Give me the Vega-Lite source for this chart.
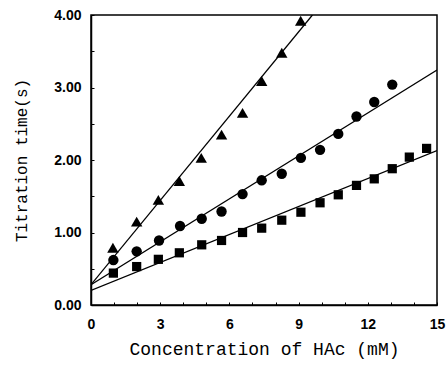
{
  "$schema": "https://vega.github.io/schema/vega-lite/v6.json",
  "width": 346,
  "height": 290,
  "autosize": {"type": "none"},
  "padding": {"left": 91, "top": 15, "right": 11, "bottom": 63},
  "background": "white",
  "config": {
    "view": {"stroke": "black", "strokeWidth": 1.5},
    "axis": {
      "domainColor": "black", "domainWidth": 1.5, "tickColor": "black", "tickWidth": 1,
      "grid": false, "labelColor": "black", "titleColor": "black",
      "labelFont": "Liberation Sans", "labelFontSize": 14, "labelFontWeight": "bold",
      "titleFont": "Liberation Mono", "titleFontWeight": "normal"
    }
  },
  "datasets": {
    "pts": [
      {"c": 0.95, "t": 0.79, "s": "A"}, {"c": 1.98, "t": 1.15, "s": "A"}, {"c": 2.92, "t": 1.45, "s": "A"},
      {"c": 3.83, "t": 1.71, "s": "A"}, {"c": 4.78, "t": 2.03, "s": "A"}, {"c": 5.66, "t": 2.35, "s": "A"},
      {"c": 6.57, "t": 2.65, "s": "A"}, {"c": 7.4, "t": 3.09, "s": "A"}, {"c": 8.27, "t": 3.48, "s": "A"},
      {"c": 9.09, "t": 3.92, "s": "A"},
      {"c": 0.97, "t": 0.62, "s": "B"}, {"c": 1.98, "t": 0.74, "s": "B"}, {"c": 2.95, "t": 0.89, "s": "B"},
      {"c": 3.86, "t": 1.09, "s": "B"}, {"c": 4.8, "t": 1.19, "s": "B"}, {"c": 5.66, "t": 1.29, "s": "B"},
      {"c": 6.57, "t": 1.53, "s": "B"}, {"c": 7.4, "t": 1.72, "s": "B"}, {"c": 8.27, "t": 1.81, "s": "B"},
      {"c": 9.1, "t": 2.03, "s": "B"}, {"c": 9.93, "t": 2.14, "s": "B"}, {"c": 10.72, "t": 2.36, "s": "B"},
      {"c": 11.51, "t": 2.6, "s": "B"}, {"c": 12.28, "t": 2.8, "s": "B"}, {"c": 13.06, "t": 3.04, "s": "B"},
      {"c": 0.97, "t": 0.44, "s": "C"}, {"c": 1.98, "t": 0.53, "s": "C"}, {"c": 2.92, "t": 0.63, "s": "C"},
      {"c": 3.83, "t": 0.72, "s": "C"}, {"c": 4.8, "t": 0.83, "s": "C"}, {"c": 5.66, "t": 0.89, "s": "C"},
      {"c": 6.57, "t": 1.0, "s": "C"}, {"c": 7.4, "t": 1.06, "s": "C"}, {"c": 8.27, "t": 1.17, "s": "C"},
      {"c": 9.1, "t": 1.28, "s": "C"}, {"c": 9.93, "t": 1.41, "s": "C"}, {"c": 10.72, "t": 1.52, "s": "C"},
      {"c": 11.51, "t": 1.65, "s": "C"}, {"c": 12.28, "t": 1.74, "s": "C"}, {"c": 13.06, "t": 1.88, "s": "C"},
      {"c": 13.8, "t": 2.04, "s": "C"}, {"c": 14.55, "t": 2.16, "s": "C"}
    ],
    "fit": [
      {"c": 0, "t": 0.28, "s": "A"}, {"c": 9.6, "t": 4.0, "s": "A"},
      {"c": 0, "t": 0.28, "s": "B"}, {"c": 15, "t": 3.24, "s": "B"},
      {"c": 0, "t": 0.2, "s": "C"}, {"c": 15, "t": 2.13, "s": "C"}
    ]
  },
  "encoding": {
    "x": {
      "field": "c", "type": "quantitative",
      "scale": {"domain": [0, 15], "nice": false, "zero": false},
      "axis": {
        "title": "Concentration of HAc (mM)", "titleFontSize": 18, "titlePadding": 9,
        "values": [0,1,2,3,4,5,6,7,8,9,10,11,12,13,14,15],
        "labelExpr": "datum.value % 3 === 0 ? datum.value : ''",
        "tickSize": -3, "labelPadding": 15, "labelFlush": false
      }
    },
    "y": {
      "field": "t", "type": "quantitative",
      "scale": {"domain": [0, 4], "nice": false},
      "axis": {
        "title": "Titration time(s)", "titleFontSize": 16, "titlePadding": 24,
        "values": [0,0.5,1,1.5,2,2.5,3,3.5,4],
        "labelExpr": "datum.value % 1 === 0 ? format(datum.value, '.2f') : ''",
        "tickSize": -3, "labelPadding": 13, "labelFlush": false
      }
    }
  },
  "layer": [
    {
      "data": {"name": "fit"},
      "mark": {"type": "line", "color": "black", "strokeWidth": 1.3, "clip": true},
      "encoding": {"detail": {"field": "s"}}
    },
    {
      "data": {"name": "pts"},
      "mark": {"type": "point", "filled": true, "opacity": 1, "color": "black"},
      "encoding": {
        "shape": {
          "field": "s", "type": "nominal", "legend": null,
          "scale": {"domain": ["A", "B", "C"], "range": ["triangle-up", "circle", "square"]}
        },
        "size": {
          "field": "s", "type": "nominal", "legend": null,
          "scale": {"domain": ["A", "B", "C"], "range": [130, 85, 85]}
        }
      }
    }
  ]
}
